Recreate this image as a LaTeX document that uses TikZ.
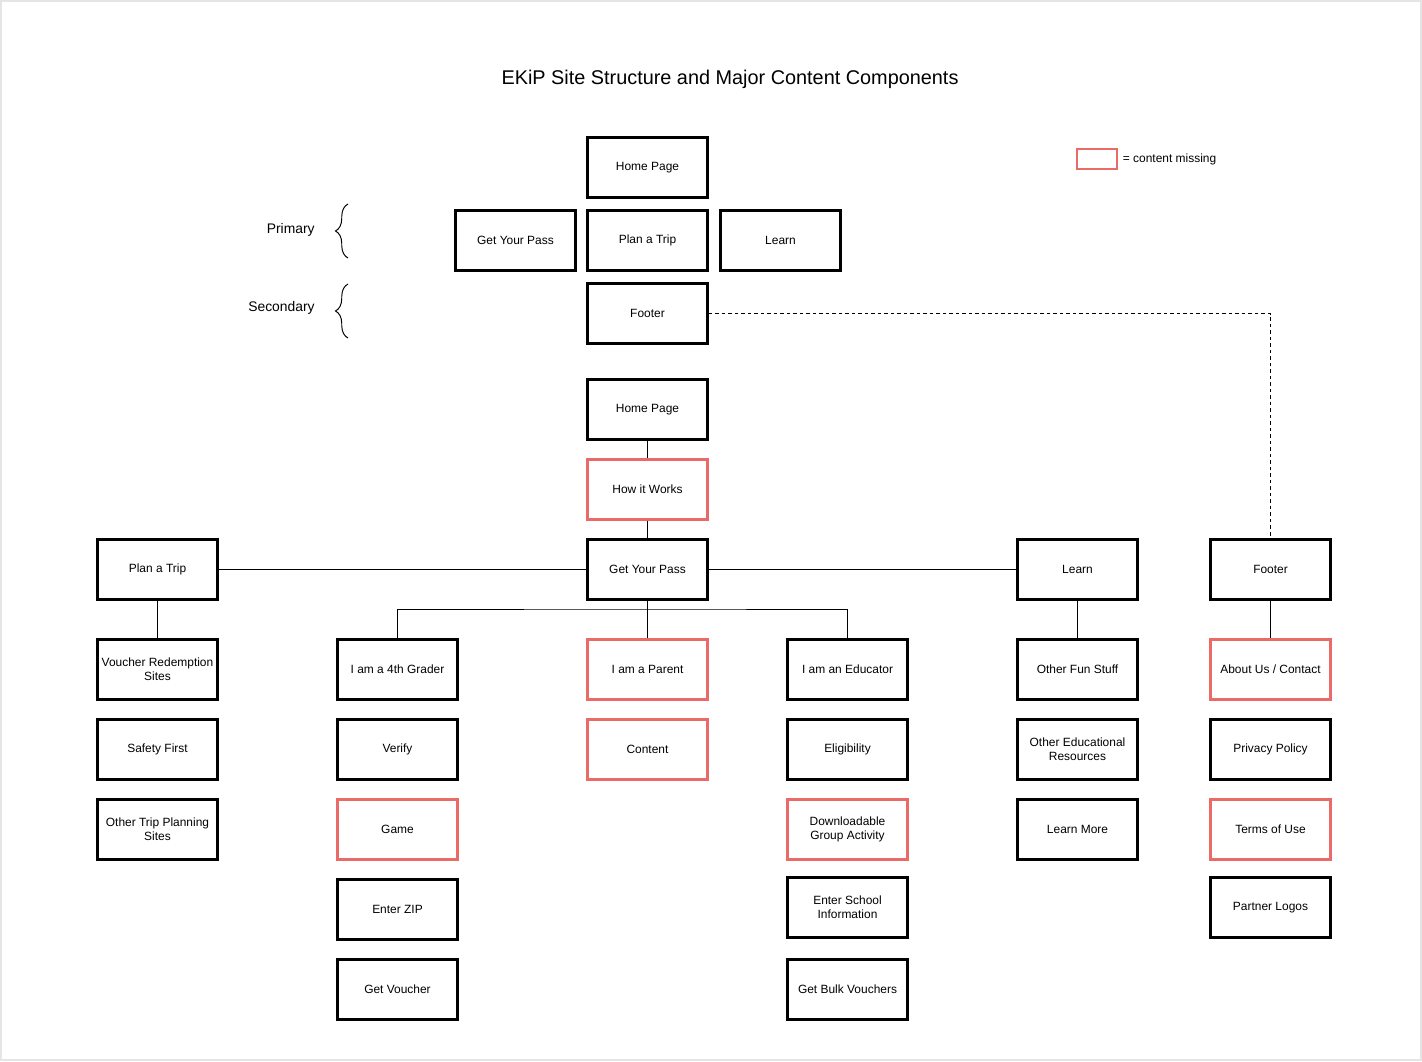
\documentclass[tikz,border=0pt]{standalone}
\usepackage{fontspec}
\setmainfont{Liberation Sans}
\usetikzlibrary{positioning,decorations.pathreplacing}
\definecolor{missred}{HTML}{E96A66}
\newdimen\rowDist

\begin{document}
\begin{tikzpicture}[page/.style={draw, rectangle, line width=1.7pt, minimum width=2.39cm,
                      minimum height=1.2cm, inner sep=1pt, align=center,
                      font=\fontsize{6.8}{7.9}\selectfont},
                    missing/.style={page, draw=missred},
                    link/.style={line width=0.55pt},
                    side/.style={font=\fontsize{7.9}{9}\selectfont, anchor=east, inner sep=0pt}]
  \rowDist=1.6cm

  \useasboundingbox (0,0) rectangle (28.44,-21.22);
  \draw [gray!20, line width=1pt] (0.02,-0.02) rectangle (28.42,-21.2);

  \node [font=\fontsize{11.3}{13}\selectfont] (title) at (14.6,-1.58)
    {EKiP Site Structure and Major Content Components};

  % key
  \node [draw=missred, line width=0.6pt, minimum width=0.8cm, minimum height=0.4cm,
         inner sep=0pt] (key) at (21.94,-3.18) {};
  \node [right=0.1cm of key, inner sep=0pt, font=\fontsize{6.8}{7.9}\selectfont]
    (keytext) {= content missing};

  % levels
  \node [side] (primary) at (6.3,-4.6) {Primary};
  \node [side] (secondary) at (6.3,-6.16) {Secondary};
  \draw [link, decorate, decoration={brace, amplitude=0.25cm}] (6.96,-5.16) -- (6.96,-4.08);
  \draw [link, decorate, decoration={brace, amplitude=0.25cm}] (6.96,-6.76) -- (6.96,-5.68);

  % navigation
  \node [page] (home) at (12.95,-3.35) {Home Page};
  \path (home) ++(0,-1.46) node [page] (plan) {Plan a Trip};
  \path (plan) ++(-2.64,0) node [page] (pass) {Get Your Pass};
  \path (plan) ++( 2.66,0) node [page] (learn) {Learn};
  \path (plan) ++(0,-1.46) node [page] (footer) {Footer};

  % site structure
  \node [page] (home2) at (12.95,-8.19) {Home Page};
  \path (home2) ++(0,-\rowDist) node [missing] (how) {How it Works};
  \path (how)   ++(0,-\rowDist) node [page] (pass2) {Get Your Pass};
  \path (pass2) ++(-9.8,0) node [page] (plan2) {Plan a Trip};
  \path (pass2) ++( 8.6,0) node [page] (learn2) {Learn};
  \path (learn2) ++(3.86,0) node [page] (foot2) {Footer};

  \path (plan2) ++(0,-2) node [page] (voucher) {Voucher Redemption\\Sites};
  \path (voucher) ++(0,-\rowDist) node [page] (safety) {Safety First};
  \path (safety) ++(0,-\rowDist) node [page] (othertrip) {Other Trip Planning\\Sites};

  \path (pass2) ++(-5,-2) node [page] (grader) {I am a 4th Grader};
  \path (grader) ++(0,-\rowDist) node [page] (verify) {Verify};
  \path (verify) ++(0,-\rowDist) node [missing] (game) {Game};
  \path (game) ++(0,-\rowDist) node [page] (zip) {Enter ZIP};
  \path (zip) ++(0,-\rowDist) node [page] (voucherget) {Get Voucher};

  \path (pass2) ++(0,-2) node [missing] (parent) {I am a Parent};
  \path (parent) ++(0,-\rowDist) node [missing] (content) {Content};

  \path (pass2) ++(4,-2) node [page] (educator) {I am an Educator};
  \path (educator) ++(0,-\rowDist) node [page] (eligible) {Eligibility};
  \path (eligible) ++(0,-\rowDist) node [missing] (activity) {Downloadable\\Group Activity};
  \path (activity) ++(0,-1.56) node [page] (school) {Enter School\\Information};
  \path (school) ++(0,-1.64) node [page] (bulk) {Get Bulk Vouchers};

  \path (learn2) ++(0,-2) node [page] (fun) {Other Fun Stuff};
  \path (fun) ++(0,-\rowDist) node [page] (resources) {Other Educational\\Resources};
  \path (resources) ++(0,-\rowDist) node [page] (learnmore) {Learn More};

  \path (foot2) ++(0,-2) node [missing] (about) {About Us / Contact};
  \path (about) ++(0,-\rowDist) node [page] (privacy) {Privacy Policy};
  \path (privacy) ++(0,-\rowDist) node [missing] (terms) {Terms of Use};
  \path (terms) ++(0,-1.56) node [page] (partners) {Partner Logos};

  % connectors
  \coordinate (bus) at (12.95,-12.18);
  \draw [link] (home2) -- (how);
  \draw [link] (how) -- (pass2);
  \draw [link] (plan2) -- (pass2);
  \draw [link] (pass2) -- (learn2);
  \draw [link] (plan2) -- (voucher);
  \draw [link] (pass2) -- (parent);
  \draw [link] (grader.north) |- (bus) -| (educator.north);
  \draw [link] (learn2) -- (fun);
  \draw [link] (foot2) -- (about);
  \draw [link, dash pattern=on 2pt off 1.7pt] (footer.east) -| (foot2.north);
\end{tikzpicture}
\end{document}
